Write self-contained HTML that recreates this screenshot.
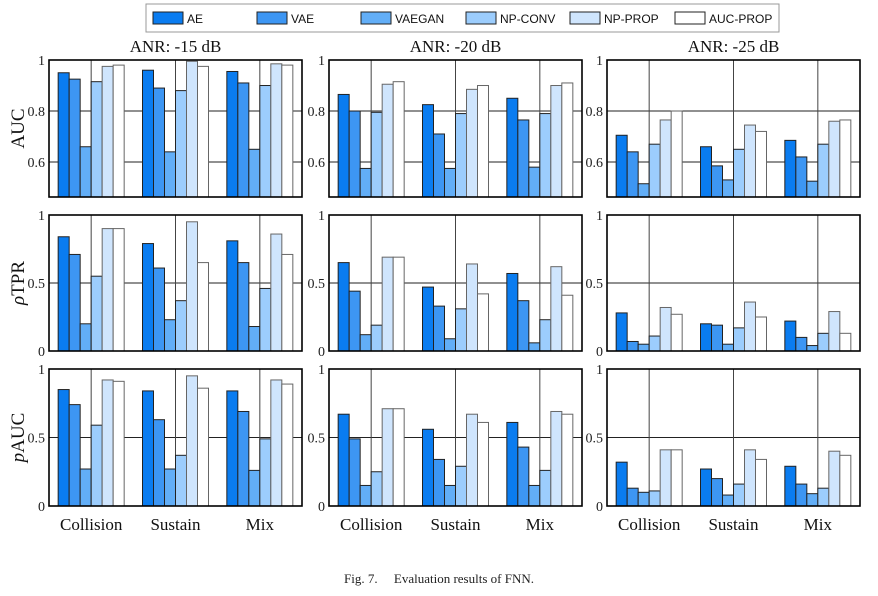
<!DOCTYPE html>
<html><head><meta charset="utf-8"><style>
html,body{margin:0;padding:0;background:#fff;}
svg{display:block;}
</style></head><body>
<svg id="fig" width="878" height="596" xmlns="http://www.w3.org/2000/svg"></svg>
<script>
const categories = ["Collision","Sustain","Mix"];
const seriesNames = ["AE","VAE","VAEGAN","NP-CONV","NP-PROP","AUC-PROP"];
const seriesColors = ["#0a7cf0","#3d96f3","#62aef7","#9ccdfd","#cfe5fd","#ffffff"];
const colTitles = ["ANR: -15 dB","ANR: -20 dB","ANR: -25 dB"];
const auc15 = [[0.95,0.925,0.66,0.915,0.975,0.98],[0.96,0.89,0.64,0.88,0.995,0.975],[0.955,0.91,0.65,0.90,0.985,0.98]];
const auc20 = [[0.865,0.80,0.575,0.795,0.905,0.915],[0.825,0.71,0.575,0.79,0.885,0.90],[0.85,0.765,0.58,0.79,0.90,0.91]];
const auc25 = [[0.705,0.64,0.515,0.67,0.765,0.80],[0.66,0.585,0.53,0.65,0.745,0.72],[0.685,0.62,0.525,0.67,0.76,0.765]];
const tpr15 = [[0.84,0.71,0.20,0.55,0.90,0.90],[0.79,0.61,0.23,0.37,0.95,0.65],[0.81,0.65,0.18,0.46,0.86,0.71]];
const tpr20 = [[0.65,0.44,0.12,0.19,0.69,0.69],[0.47,0.33,0.09,0.31,0.64,0.42],[0.57,0.37,0.06,0.23,0.62,0.41]];
const tpr25 = [[0.28,0.07,0.05,0.11,0.32,0.27],[0.20,0.19,0.05,0.17,0.36,0.25],[0.22,0.10,0.04,0.13,0.29,0.13]];
const pauc15 = [[0.85,0.74,0.27,0.59,0.92,0.91],[0.84,0.63,0.27,0.37,0.95,0.86],[0.84,0.69,0.26,0.49,0.92,0.89]];
const pauc20 = [[0.67,0.49,0.15,0.25,0.71,0.71],[0.56,0.34,0.15,0.29,0.67,0.61],[0.61,0.43,0.15,0.26,0.69,0.67]];
const pauc25 = [[0.32,0.13,0.10,0.11,0.41,0.41],[0.27,0.20,0.08,0.16,0.41,0.34],[0.29,0.16,0.09,0.13,0.40,0.37]];
const aucTicks = [1,0.8,0.6];
const aucTickLabels = ["1","0.8","0.6"];
const rateTicks = [1,0.5,0];
const rateTickLabels = ["1","0.5","0"];

const NS="http://www.w3.org/2000/svg";
const svg=document.getElementById('fig');
function mk(tag,attrs,parent){const e=document.createElementNS(NS,tag);for(const k in attrs)e.setAttribute(k,attrs[k]);(parent||svg).appendChild(e);return e;}

const colX=[49,329,607], W=253;
const rows=[
 {top:60,bot:197,min:0.463,max:1,ticks:aucTicks,labels:aucTickLabels,data:[auc15,auc20,auc25],name:"auc",ylab:"AUC"},
 {top:215,bot:351,min:0,max:1,ticks:rateTicks,labels:rateTickLabels,data:[tpr15,tpr20,tpr25],name:"ptpr",ylab:"TPR"},
 {top:369,bot:506,min:0,max:1,ticks:rateTicks,labels:rateTickLabels,data:[pauc15,pauc20,pauc25],name:"pauc",ylab:"AUC"}
];
const SER="'Liberation Serif',serif";

rows.forEach((r,ri)=>{
 colX.forEach((x0,ci)=>{
  const g=mk('g',{});
  
  
  const yS=v=>r.bot-(Math.max(v,r.min)-r.min)/(r.max-r.min)*(r.bot-r.top);
  const xS=v=>x0+(v+0.5)/3*W;
  r.ticks.forEach((t,ti)=>{
   const y=yS(t);
   const l=mk('line',{x1:x0,x2:x0+W,y1:y,y2:y,stroke:'#222','stroke-width':1},g);
   
   
   const tx=mk('text',{x:x0-4,y:y+5,'text-anchor':'end','font-family':SER,'font-size':14,fill:'#222'},g);
   tx.textContent=r.labels[ti];
   
   
  });
  categories.forEach((c,k)=>{
   const x=xS(k);
   const l=mk('line',{x1:x,x2:x,y1:r.top,y2:r.bot,stroke:'#444','stroke-width':1},g);
   
   
  });
  const bw=11;
  r.data[ci].forEach((vals,k)=>{
   const cx=xS(k);
   vals.forEach((v,s)=>{
    const bx=cx-3*bw+s*bw, y=yS(v);
    const b=mk('rect',{x:bx,y:y,width:bw,height:r.bot-y,fill:seriesColors[s],stroke:s>=4?'#666':'#222','stroke-width':1},g);
    
    
   });
  });
  const fr=mk('rect',{x:x0,y:r.top,width:W,height:r.bot-r.top,fill:'none',stroke:'#000','stroke-width':1.6},g);
  
  
  if(ri===0){
   const t=mk('text',{x:x0+W/2,y:52,'text-anchor':'middle','font-family':SER,'font-size':17,fill:'#111'},g);
   t.textContent=colTitles[ci];
   
   
  }
  if(ri===2){
   categories.forEach((c,k)=>{
    const t=mk('text',{x:xS(k),y:530,'text-anchor':'middle','font-family':SER,'font-size':17,fill:'#111'},g);
    t.textContent=c;
    
    
   });
  }
 });
 const cy=(r.top+r.bot)/2;
 const yl=mk('text',{x:0,y:0,transform:`translate(24,${cy}) rotate(-90)`,'text-anchor':'middle','font-family':SER,'font-size':19,fill:'#111'});
 
 
 if(ri===0){yl.textContent='AUC';}
 else{
  const p=mk('tspan',{'font-style':'italic'},yl);p.textContent=ri===1?'ρ':'p';
  const q=mk('tspan',{},yl);q.textContent=r.ylab;
 }
});

const lg=mk('g',{});


mk('rect',{x:146,y:4,width:633,height:28,fill:'#fff',stroke:'#999','stroke-width':1},lg);
const lx=[153,257,361,466,570,675];
seriesNames.forEach((n,i)=>{
 const e=mk('g',{},lg);
 
 
 mk('rect',{x:lx[i],y:12,width:30,height:12,fill:seriesColors[i],stroke:'#222','stroke-width':1},e);
 const t=mk('text',{x:lx[i]+34,y:23,'font-family':"'Liberation Sans',sans-serif",'font-size':12,fill:'#111'},e);
 t.textContent=n;
});

const cap=mk('text',{x:439,y:583,'text-anchor':'middle','font-family':SER,'font-size':13,fill:'#222',style:'white-space:pre'});
cap.textContent='Fig. 7.     Evaluation results of FNN.';


</script>
</body></html>
